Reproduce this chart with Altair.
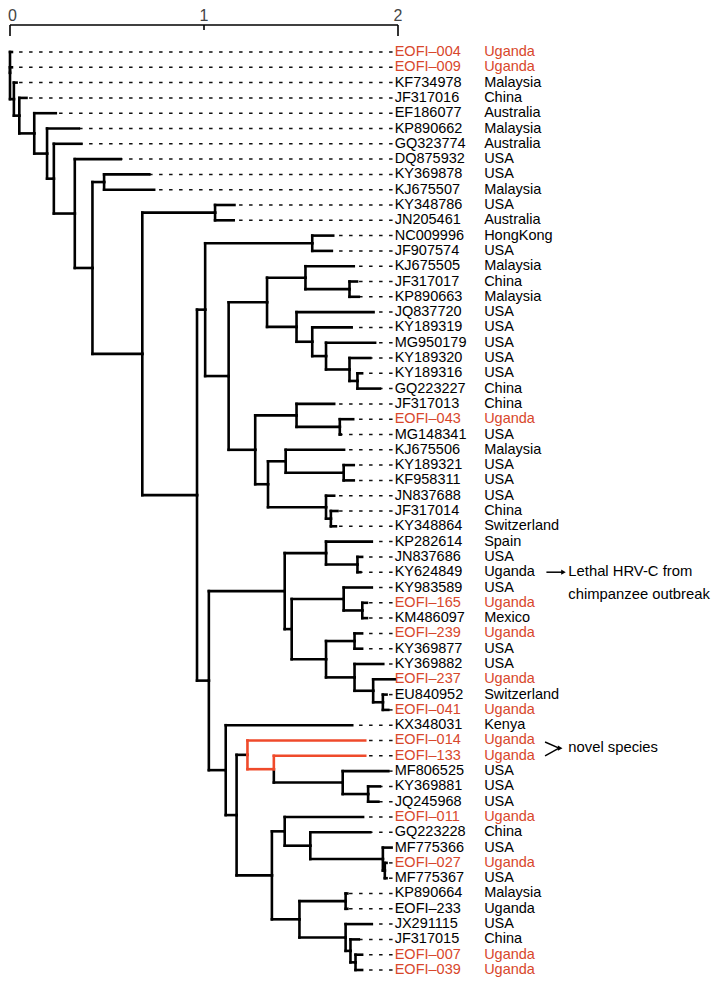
import altair as alt
import pandas as pd

# ---------------- data ----------------
tip_labels = [
    "EOFI–004", "EOFI–009", "KF734978", "JF317016", "EF186077", "KP890662", "GQ323774",
    "DQ875932", "KY369878", "KJ675507", "KY348786", "JN205461", "NC009996", "JF907574",
    "KJ675505", "JF317017", "KP890663", "JQ837720", "KY189319", "MG950179", "KY189320",
    "KY189316", "GQ223227", "JF317013", "EOFI–043", "MG148341", "KJ675506", "KY189321",
    "KF958311", "JN837688", "JF317014", "KY348864", "KP282614", "JN837686", "KY624849",
    "KY983589", "EOFI–165", "KM486097", "EOFI–239", "KY369877", "KY369882", "EOFI–237",
    "EU840952", "EOFI–041", "KX348031", "EOFI–014", "EOFI–133", "MF806525", "KY369881",
    "JQ245968", "EOFI–011", "GQ223228", "MF775366", "EOFI–027", "MF775367", "KP890664",
    "EOFI–233", "JX291115", "JF317015", "EOFI–007", "EOFI–039",
]
tip_countries = [
    "Uganda", "Uganda", "Malaysia", "China", "Australia", "Malaysia", "Australia",
    "USA", "USA", "Malaysia", "USA", "Australia", "HongKong", "USA",
    "Malaysia", "China", "Malaysia", "USA", "USA", "USA", "USA",
    "USA", "China", "China", "Uganda", "USA", "Malaysia", "USA",
    "\u00a0USA", "USA", "China", "Switzerland", "Spain", "USA", "Uganda",
    "USA", "Uganda", "Mexico", "Uganda", "USA", "USA", "Uganda",
    "Switzerland", "Uganda", "Kenya", "Uganda", "Uganda", "USA", "USA",
    "USA", "Uganda", "China", "USA", "Uganda", "USA", "Malaysia",
    "Uganda", "USA", "China", "Uganda", "Uganda",
]
tip_red = [
    1, 1, 0, 0, 0, 0, 0, 0, 0, 0, 0, 0, 0, 0, 0, 0, 0, 0, 0, 0, 0, 0, 0, 0, 1, 0, 0, 0,
    0, 0, 0, 0, 0, 0, 0, 0, 1, 0, 1, 0, 0, 1, 0, 1, 0, 1, 1, 0, 0, 0, 1, 0, 0, 1, 0, 0,
    0, 0, 0, 1, 1,
]
# x where each tip's solid branch ends (substitutions per site)
tip_x = [
    0.010, 0.010, 0.034, 0.085, 0.236, 0.355, 0.368, 0.571, 0.718, 0.743, 1.157, 1.153,
    1.666, 1.659, 1.772, 1.789, 1.798, 1.874, 1.761, 1.882, 1.857, 1.815, 1.907, 1.671,
    1.769, 1.705, 1.722, 1.772, 1.772, 1.671, 1.688, 1.680, 1.865, 1.815, 1.806, 1.865,
    1.840, 1.840, 1.815, 1.815, 1.924, 1.983, 1.941, 1.950, 1.764, 1.831, 1.831, 1.950,
    1.907, 1.899, 1.820, 1.857, 1.967, 1.941, 1.941, 1.739, 1.739, 1.865, 1.798, 1.815,
    1.815,
]

# internal nodes: name, depth, children
node_names = [
    "A", "B", "C", "D", "E", "F", "G", "H", "I", "J", "K", "L", "M", "N", "O", "P", "Q",
    "R", "S", "T", "U", "V", "W", "X", "Y", "AA", "Z", "AB", "AC", "AD", "AE", "AF", "AG",
    "AH", "AI", "AJ", "AK", "AL", "AM", "AN", "AO", "AP", "AQ", "AR", "AS", "AT", "AU",
    "AV", "AW", "AX", "AY", "AZ", "BA", "BB", "BC", "BD", "BE", "BF", "BG",
]
node_x = [
    0.000, 0.020, 0.048, 0.125, 0.191, 0.226, 0.334, 0.425, 0.485, 0.682, 1.057, 0.964,
    1.006, 1.558, 1.127, 1.325, 1.523, 1.750, 1.477, 1.558, 1.629, 1.750, 1.791, 1.264,
    1.477, 1.700, 1.330, 1.421, 1.720, 1.629, 1.654, 1.025, 1.416, 1.629, 1.791, 1.452,
    1.720, 1.816, 1.629, 1.776, 1.776, 1.872, 1.922, 1.112, 1.168, 1.224, 1.360, 1.715,
    1.846, 1.350, 1.416, 1.548, 1.922, 1.932, 1.492, 1.730, 1.730, 1.755, 1.781,
]
node_children = [
    ["t1", "t2", "B"], ["t3", "C"], ["t4", "D"], ["t5", "E"], ["t6", "F"], ["t7", "G"],
    ["t8", "H"], ["I", "J"], ["t9", "t10"], ["K", "L"], ["t11", "t12"], ["M", "AF"],
    ["N", "O"], ["t13", "t14"], ["P", "X"], ["Q", "S"], ["t15", "R"], ["t16", "t17"],
    ["t18", "T"], ["t19", "U"], ["t20", "V"], ["t21", "W"], ["t22", "t23"], ["Y", "Z"],
    ["t24", "AA"], ["t25", "t26"], ["AB", "AD"], ["t27", "AC"], ["t28", "t29"],
    ["t30", "AE"], ["t31", "t32"], ["AG", "AR"], ["AH", "AJ"], ["t33", "AI"],
    ["t34", "t35"], ["AK", "AM"], ["t36", "AL"], ["t37", "t38"], ["AN", "AO"],
    ["t39", "t40"], ["t41", "AP"], ["t42", "AQ"], ["t43", "t44"], ["t45", "AS"],
    ["AT", "AX"], ["t46", "AU"], ["t47", "AV"], ["t48", "AW"], ["t49", "t50"],
    ["AY", "BC"], ["t51", "AZ"], ["t52", "BA"], ["t53", "BB"], ["t54", "t55"],
    ["BD", "BE"], ["t56", "t57"], ["t58", "BF"], ["t59", "BG"], ["t60", "t61"],
]
red_edges = [("AT", "t46"), ("AT", "AU"), ("AU", "t47")]

axis_ticks = [0, 1, 2]

# ---------------- layout constants ----------------
RED_TEXT = "#D8472B"
RED_LINE = "#EF4A2B"
LABEL_X = 1.983
DOT_END = 1.972
COUNTRY_X = 2.444
FONT = "Liberation Sans"

PX_PER_UNIT = 194.0
W, H = 704, 970
x_min = -2.0 / PX_PER_UNIT
x_dom = [x_min, x_min + W / PX_PER_UNIT]
y_dom = [-1.876, 61.523]

# ---------------- tree geometry ----------------
xpos, ypos, kids = {}, {}, {}
for i in range(len(tip_labels)):
    xpos[f"t{i+1}"] = tip_x[i]
    ypos[f"t{i+1}"] = i + 1
for n, xv, ch in zip(node_names, node_x, node_children):
    xpos[n] = xv
    kids[n] = ch


def get_y(n):
    if n not in ypos:
        ypos[n] = sum(get_y(c) for c in kids[n]) / len(kids[n])
    return ypos[n]


for n in node_names:
    get_y(n)

segs = []
for n in node_names:
    for c in kids[n]:
        col = RED_LINE if (n, c) in red_edges else "black"
        order = 1 if col != "black" else 0
        segs.append(dict(x=xpos[n], x2=xpos[n], y=ypos[n], y2=ypos[c], col=col, o=order))
        segs.append(dict(x=xpos[n], x2=xpos[c], y=ypos[c], y2=ypos[c], col=col, o=order))
seg_df = pd.DataFrame(segs).sort_values("o")

tips_df = pd.DataFrame({
    "label": tip_labels,
    "country": tip_countries,
    "y": list(range(1, len(tip_labels) + 1)),
    "tx": tip_x,
    "col": [RED_TEXT if r else "black" for r in tip_red],
})
tips_df["lx"] = LABEL_X
tips_df["cx"] = COUNTRY_X
tips_df["dx"] = DOT_END
dots_df = tips_df[tips_df["tx"] < DOT_END - 0.01]

xs = alt.Scale(domain=x_dom, nice=False, zero=False)
ys = alt.Scale(domain=y_dom, nice=False, zero=False, reverse=True)


def X(f):
    return alt.X(f, type="quantitative", scale=xs, axis=None)


def Y(f):
    return alt.Y(f, type="quantitative", scale=ys, axis=None)


branches = alt.Chart(seg_df).mark_rule(strokeWidth=2.6, strokeCap="square").encode(
    x=X("x"), x2="x2", y=Y("y"), y2="y2",
    color=alt.Color("col:N", scale=None), order="o:Q",
)

dots = alt.Chart(dots_df).mark_rule(
    strokeWidth=1.5, strokeDash=[3.5, 6.5], color="#111111"
).encode(x=X("dx"), x2="tx", y=Y("y"))

labels = alt.Chart(tips_df).mark_text(
    align="left", baseline="middle", font=FONT, fontSize=14.5
).encode(x=X("lx"), y=Y("y"), text="label:N", color=alt.Color("col:N", scale=None))

countries = alt.Chart(tips_df).mark_text(
    align="left", baseline="middle", font=FONT, fontSize=14.5
).encode(x=X("cx"), y=Y("y"), text="country:N", color=alt.Color("col:N", scale=None))

# ---------------- scale bar at top ----------------
AX_Y, TICK_END, TICK_MID, AX_LAB = -0.765, -0.046, -0.438, -1.353
axis_line = alt.Chart(pd.DataFrame({"a": [min(axis_ticks)], "b": [max(axis_ticks)], "y": [AX_Y]})).mark_rule(
    strokeWidth=1.6, color="black"
).encode(x=X("a"), x2="b", y=Y("y"))
tick_df = pd.DataFrame({
    "t": axis_ticks,
    "y": [AX_Y] * len(axis_ticks),
    "y2": [TICK_END if t in (min(axis_ticks), max(axis_ticks)) else TICK_MID for t in axis_ticks],
    "lab": [str(t) for t in axis_ticks],
    "ly": [AX_LAB] * len(axis_ticks),
})
axis_ticks_l = alt.Chart(tick_df).mark_rule(strokeWidth=1.6, color="black").encode(
    x=X("t"), y=Y("y"), y2="y2"
)
axis_labels_mid = alt.Chart(tick_df[tick_df["t"] > min(axis_ticks)]).mark_text(
    align="center", baseline="middle", font=FONT, fontSize=16, color="#444444"
).encode(x=X("t"), y=Y("ly"), text="lab:N")
axis_label_first = alt.Chart(tick_df[tick_df["t"] == min(axis_ticks)]).mark_text(
    align="left", baseline="middle", font=FONT, fontSize=16, color="#444444", dx=-2
).encode(x=X("t"), y=Y("ly"), text="lab:N")

# ---------------- annotations ----------------
lethal_idx = tip_labels.index("KY624849") + 1
novel_a = tip_labels.index("EOFI–014") + 1
novel_b = tip_labels.index("EOFI–133") + 1
novel_mid = (novel_a + novel_b) / 2

arrow_df = pd.DataFrame({
    "x": [2.765, 2.758, 2.758],
    "x2": [2.848, 2.830, 2.830],
    "y": [lethal_idx, novel_a + 0.1, novel_b],
    "y2": [lethal_idx, novel_mid, novel_mid],
})
arrow_lines = alt.Chart(arrow_df).mark_rule(strokeWidth=1.5, color="black").encode(
    x=X("x"), x2="x2", y=Y("y"), y2="y2"
)
head_df = pd.DataFrame({"x": [2.853, 2.836], "y": [lethal_idx, novel_mid]})
arrow_heads = alt.Chart(head_df).mark_point(
    shape="triangle-right", filled=True, size=28, color="black", opacity=1
).encode(x=X("x"), y=Y("y"))

note_df = pd.DataFrame({
    "x": [2.878, 2.878, 2.878],
    "y": [lethal_idx, lethal_idx + 1.5, novel_mid],
    "t": ["Lethal HRV-C from", "chimpanzee outbreak", "novel species"],
})
notes = alt.Chart(note_df).mark_text(
    align="left", baseline="middle", font=FONT, fontSize=14.8, color="black"
).encode(x=X("x"), y=Y("y"), text="t:N")

chart = alt.layer(
    dots, branches, labels, countries, axis_line, axis_ticks_l, axis_labels_mid,
    axis_label_first, arrow_lines, arrow_heads, notes,
).properties(
    width=W, height=H, padding=0, autosize=alt.AutoSizeParams(type="none")
).configure_view(stroke=None)

chart.save("out.html", embed_options={"renderer": "svg", "actions": False})
